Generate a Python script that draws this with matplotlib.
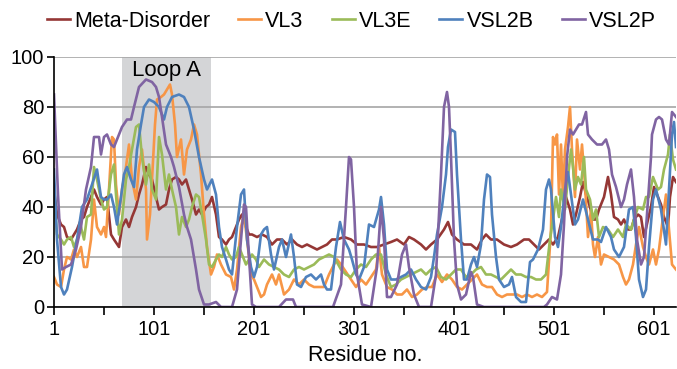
import matplotlib
matplotlib.use("Agg")
import matplotlib.pyplot as plt
from matplotlib.ticker import FixedLocator

plt.rcParams['font.family'] = ['Liberation Sans', 'DejaVu Sans']

# (residue, score)
meta_x = [1, 4, 8, 11, 14, 18, 21, 24, 28, 31, 34, 38, 41, 44, 48, 51, 54, 58, 61, 66, 69, 73, 76, 79, 83, 86, 89, 93, 96, 99,
          103, 106, 109, 113, 116, 119, 123, 126, 129, 133, 136, 139, 143, 146, 149, 153, 156, 159, 163, 166, 169, 173, 176, 179,
          183, 186, 189, 193, 196, 199, 204, 209, 214, 219, 224, 229, 234, 239, 244, 249, 254, 259, 264, 269, 274, 279, 284, 291,
          298, 304, 311, 318, 324, 331, 338, 344, 351, 356, 361, 368, 373, 378, 384, 391, 395, 399, 404, 411, 418, 424, 429, 433,
          438, 444, 451, 458, 464, 471, 476, 481, 486, 491, 496, 500, 505, 510, 513, 517, 520, 523, 527, 530, 533, 537, 540, 543,
          546, 551, 555, 558, 561, 565, 568, 571, 575, 578, 581, 585, 588, 591, 595, 598, 601, 605, 608, 611, 615, 617, 620, 623]
meta_y = [47, 37, 33, 32, 28, 27, 29, 31, 35, 36, 40, 44, 47, 44, 41, 43, 44, 29, 27, 24, 32, 35, 32, 36, 40, 45, 49, 56, 53, 51,
          44, 39, 40, 41, 47, 51, 52, 51, 49, 51, 47, 43, 37, 39, 37, 40, 41, 44, 37, 28, 27, 25, 27, 28,
          32, 35, 37, 32, 29, 29, 28, 29, 28, 25, 27, 27, 25, 27, 25, 24, 25, 24, 23, 24, 25, 27, 27, 28,
          27, 25, 25, 24, 24, 25, 26, 27, 25, 28, 27, 25, 23, 25, 27, 31, 34, 29, 27, 25, 25, 23, 27, 29,
          27, 27, 25, 24, 25, 27, 27, 25, 23, 25, 27, 25, 28, 37, 44, 39, 33, 37, 44, 50, 45, 40, 35, 35,
          39, 44, 52, 45, 36, 35, 33, 35, 31, 31, 35, 37, 36, 28, 35, 40, 48, 44, 41, 36, 32, 44, 52, 50]

vl3_x = [1, 4, 8, 11, 14, 18, 21, 24, 28, 31, 34, 38, 41, 44, 48, 51, 53, 56, 59, 61, 63, 66, 69, 73, 76, 79, 83, 86, 89, 93,
         94, 97, 99, 102, 104, 108, 111, 114, 117, 119, 122, 124, 128, 131, 134, 138, 141, 144, 148, 151, 154, 158, 161, 164,
         168, 173, 178, 181, 184, 188, 191, 194, 198, 201, 204, 208, 211, 214, 219, 223, 226, 231, 236, 241, 246, 251, 256, 261,
         266, 271, 276, 281, 284, 288, 293, 298, 303, 308, 313, 318, 323, 326, 329, 334, 339, 344, 349, 354, 359, 364, 369, 374,
         379, 384, 389, 394, 399, 404, 409, 414, 419, 424, 429, 434, 439, 444, 449, 454, 459, 464, 469, 474, 479, 484, 489, 494,
         498, 500, 502, 504, 506, 508, 510, 512, 515, 517, 519, 522, 524, 527, 529, 532, 535, 538, 540, 542, 545, 548, 551, 556,
         561, 566, 570, 573, 576, 580, 583, 586, 590, 593, 596, 600, 603, 606, 610, 613, 616, 619, 623]
vl3_y = [12, 9, 8, 15, 20, 19, 23, 20, 24, 16, 16, 27, 43, 32, 29, 32, 28, 47, 68, 67, 49, 37, 47, 56, 65, 51, 43, 56, 63, 47,
         27, 37, 51, 73, 83, 84, 85, 87, 89, 85, 73, 60, 67, 53, 63, 67, 73, 69, 53, 37, 24, 13, 16, 21,
         17, 13, 12, 7, 15, 32, 37, 27, 13, 11, 8, 4, 5, 9, 13, 9, 13, 5, 7, 11, 9, 11, 9, 8,
         8, 8, 13, 17, 19, 17, 14, 11, 8, 11, 9, 12, 15, 24, 13, 8, 7, 5, 5, 7, 4, 5, 7, 8,
         8, 13, 10, 13, 11, 8, 7, 9, 11, 13, 9, 8, 8, 5, 4, 5, 5, 5, 4, 5, 4, 5, 4, 6,
         31, 68, 65, 69, 45, 65, 43, 63, 72, 80, 63, 44, 67, 55, 65, 49, 28, 39, 25, 20, 28, 17, 21, 20,
         19, 17, 12, 9, 11, 17, 25, 32, 24, 20, 17, 23, 17, 23, 36, 45, 31, 17, 15]

vl3e_x = [1, 4, 8, 11, 14, 18, 21, 24, 28, 31, 34, 38, 41, 44, 48, 51, 54, 58, 61, 63, 66, 69, 73, 76, 79, 83, 86, 89, 93, 96,
          99, 103, 106, 109, 113, 116, 119, 123, 126, 129, 133, 136, 139, 143, 146, 149, 153, 156, 159, 163, 166, 169, 173, 176,
          179, 183, 186, 189, 193, 196, 199, 203, 206, 211, 216, 221, 226, 231, 236, 241, 246, 251, 256, 261, 266, 271, 276, 281,
          288, 293, 298, 303, 308, 313, 318, 323, 328, 333, 338, 343, 348, 353, 358, 363, 368, 373, 378, 383, 388, 393, 398, 403,
          408, 413, 418, 423, 428, 433, 438, 443, 448, 453, 458, 463, 468, 473, 478, 483, 488, 493, 497, 500, 503, 506, 508, 512,
          515, 518, 520, 522, 525, 528, 531, 533, 537, 540, 543, 546, 550, 555, 560, 565, 570, 573, 578, 581, 585, 590, 593, 596,
          600, 605, 608, 611, 615, 617, 620, 623]
vl3e_y = [43, 29, 27, 25, 27, 28, 24, 27, 32, 27, 36, 37, 56, 51, 43, 39, 40, 53, 57, 45, 29, 35, 51, 56, 63, 72, 73, 60, 49, 57,
          47, 43, 68, 61, 47, 53, 47, 40, 29, 36, 32, 35, 40, 45, 44, 37, 27, 17, 16, 19, 21, 20, 24, 21,
          19, 20, 24, 21, 17, 19, 21, 19, 16, 19, 17, 16, 15, 13, 12, 15, 16, 15, 16, 17, 19, 20, 21, 20,
          15, 13, 12, 15, 17, 16, 19, 21, 21, 13, 8, 9, 11, 12, 13, 14, 15, 13, 15, 16, 12, 11, 13, 15,
          15, 12, 13, 15, 16, 13, 13, 12, 11, 13, 15, 13, 13, 12, 12, 11, 11, 13, 27, 35, 44, 36, 47, 39,
          52, 63, 56, 47, 52, 49, 60, 47, 43, 35, 39, 28, 32, 31, 28, 31, 28, 33, 31, 35, 40, 39, 44, 44,
          52, 47, 48, 55, 61, 69, 59, 55]

vsl2b_x = [1, 4, 8, 11, 14, 19, 24, 29, 34, 39, 44, 48, 51, 54, 58, 61, 64, 68, 71, 74, 78, 81, 84, 88, 91, 96, 101, 106, 111, 114,
           119, 126, 131, 136, 141, 146, 151, 154, 159, 163, 166, 169, 173, 176, 179, 184, 188, 191, 194, 198, 201, 204, 208, 211,
           214, 218, 221, 226, 229, 233, 238, 241, 244, 248, 253, 258, 263, 268, 271, 274, 278, 283, 287, 291, 296, 299, 303, 306,
           311, 316, 321, 326, 328, 331, 334, 338, 343, 348, 353, 358, 363, 368, 373, 378, 381, 384, 389, 393, 395, 398, 402, 404,
           408, 411, 414, 418, 421, 424, 428, 431, 434, 437, 439, 443, 446, 451, 456, 459, 463, 468, 473, 477, 480, 485, 490, 493,
           496, 498, 502, 505, 508, 512, 515, 518, 522, 525, 530, 535, 540, 545, 548, 553, 558, 561, 566, 571, 576, 580, 583, 586,
           590, 593, 596, 600, 603, 608, 613, 616, 619, 621, 623]
vsl2b_y = [55, 27, 8, 5, 7, 16, 27, 40, 43, 49, 55, 44, 43, 43, 45, 40, 33, 44, 53, 56, 51, 48, 63, 73, 80, 83, 82, 80, 75, 80,
           84, 85, 84, 80, 71, 60, 51, 47, 51, 45, 32, 24, 19, 15, 13, 32, 45, 47, 27, 16, 12, 16, 29, 31,
           32, 21, 15, 24, 27, 20, 29, 20, 9, 8, 12, 13, 11, 13, 9, 7, 7, 24, 34, 27, 23, 19, 13, 11,
           16, 33, 32, 39, 44, 33, 15, 11, 11, 12, 13, 15, 11, 8, 7, 12, 20, 29, 40, 53, 64, 71, 70, 53,
           27, 11, 11, 17, 20, 16, 25, 43, 53, 52, 37, 20, 11, 8, 9, 12, 4, 2, 2, 18, 19, 23, 31, 47,
           51, 47, 28, 24, 32, 47, 54, 45, 33, 35, 43, 35, 27, 27, 26, 32, 28, 23, 20, 24, 39, 40, 28, 11,
           4, 7, 24, 43, 47, 39, 25, 47, 69, 74, 64]

vsl2p_x = [1, 5, 9, 13, 18, 23, 28, 33, 38, 41, 46, 48, 51, 54, 58, 61, 64, 69, 74, 78, 81, 86, 93, 99, 103, 106, 109, 113, 114, 118,
           121, 126, 131, 134, 138, 143, 146, 151, 156, 163, 168, 179, 184, 188, 191, 193, 196, 199, 203, 226, 233, 240, 243, 280,
           288, 293, 296, 298, 301, 304, 309, 318, 324, 328, 331, 334, 338, 344, 349, 353, 356, 361, 366, 378, 383, 388, 391, 394,
           396, 398, 401, 404, 408, 413, 418, 420, 424, 431, 491, 494, 499, 504, 508, 511, 514, 517, 520, 526, 529, 533, 535, 539,
           544, 549, 553, 556, 559, 563, 568, 571, 574, 578, 581, 584, 588, 591, 594, 598, 599, 603, 606, 609, 613, 616, 619, 623]
vsl2p_y = [85, 45, 15, 16, 17, 23, 32, 47, 56, 68, 68, 61, 68, 69, 65, 64, 67, 72, 75, 75, 80, 88, 91, 90, 88, 84, 76, 65, 64, 60,
           56, 48, 37, 32, 27, 15, 7, 1, 1, 2, 0, 0, 7, 27, 41, 40, 20, 1, 0, 0, 3, 3, 0, 0,
           9, 40, 60, 59, 40, 13, 1, 0, 16, 40, 27, 4, 4, 9, 21, 25, 16, 5, 0, 0, 13, 53, 80, 86,
           80, 60, 27, 9, 3, 5, 14, 12, 1, 0, 0, 1, 4, 3, 13, 33, 60, 71, 69, 73, 73, 78, 69, 67,
           65, 65, 67, 63, 53, 48, 40, 43, 49, 55, 44, 27, 17, 20, 37, 60, 69, 75, 76, 75, 67, 65, 78, 76]

series = [
    ('Meta-Disorder', meta_x, meta_y, '#953735'),
    ('VL3', vl3_x, vl3_y, '#F79646'),
    ('VL3E', vl3e_x, vl3e_y, '#9BBB59'),
    ('VSL2B', vsl2b_x, vsl2b_y, '#4F81BD'),
    ('VSL2P', vsl2p_x, vsl2p_y, '#8064A2'),
]
loop_a = (69, 158)
xticks = [1, 101, 201, 301, 401, 501, 601]
xminor = [51, 151, 251, 351, 451, 551]
yticks = [0, 20, 40, 60, 80, 100]

fig = plt.figure(figsize=(6.77, 3.69), dpi=100)
ax = fig.add_axes([54 / 677, 62 / 369, 622 / 677, 250 / 369])

ax.axvspan(loop_a[0], loop_a[1], color='#D4D5D7', zorder=0.2, lw=0)
ax.text((loop_a[0] + loop_a[1]) / 2, 94.5, 'Loop A', ha='center', va='center', fontsize=16)

lines = []
for name, xs, ys, col in series:
    ln, = ax.plot(xs, ys, color=col, lw=1.9, label=name, solid_joinstyle='round')
    lines.append(ln)

ax.set_xlim(1, 623)
ax.set_ylim(0, 100)
ax.set_xticks(xticks)
ax.xaxis.set_minor_locator(FixedLocator(xminor))
ax.set_yticks(yticks)
ax.tick_params(axis='both', which='both', direction='out', width=1.2, labelsize=14.5, color='black')
ax.tick_params(axis='x', which='both', length=6)
ax.tick_params(axis='y', length=5, pad=2)
ax.yaxis.grid(True, color='#A6A6A6', lw=1.2)
ax.set_axisbelow(True)
for s in ['top', 'right']:
    ax.spines[s].set_visible(False)
for s in ['left', 'bottom']:
    ax.spines[s].set_linewidth(1.2)
ax.set_xlabel('Residue no.', fontsize=15.5, labelpad=4)

fig.legend(handles=lines, loc='upper center', bbox_to_anchor=(0.519, 1.0), ncol=5, frameon=False,
           fontsize=15.5, handlelength=1.07, handletextpad=0.2, columnspacing=1.3, borderaxespad=0.1)

fig.savefig('out.png', dpi=100)
